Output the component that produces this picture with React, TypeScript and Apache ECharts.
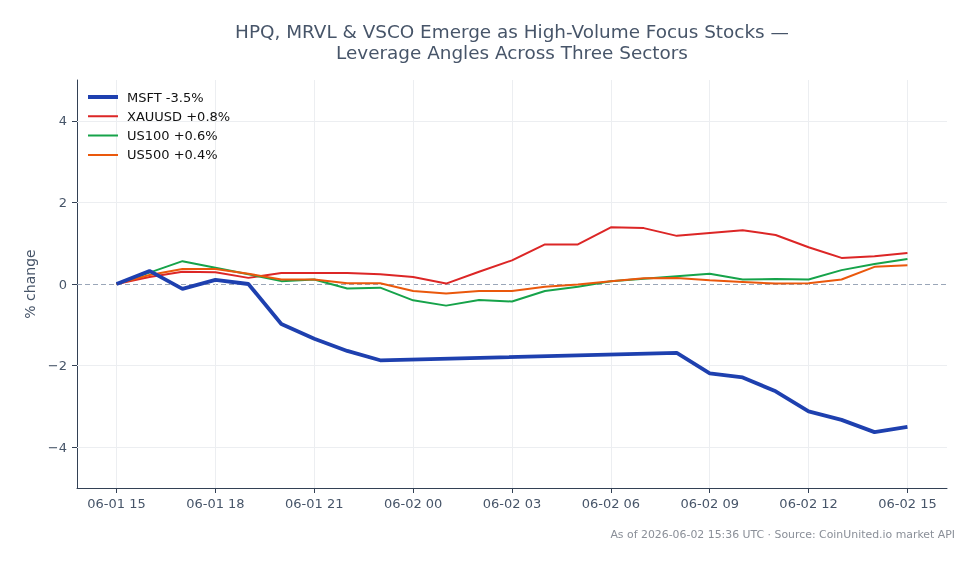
import React, { useEffect, useRef } from "react";
import * as echarts from "echarts";

const times: string[] = [
  "2026-06-01T15:00:00Z", "2026-06-01T16:00:00Z", "2026-06-01T17:00:00Z", "2026-06-01T18:00:00Z",
  "2026-06-01T19:00:00Z", "2026-06-01T20:00:00Z", "2026-06-01T21:00:00Z", "2026-06-01T22:00:00Z",
  "2026-06-01T23:00:00Z", "2026-06-02T00:00:00Z", "2026-06-02T01:00:00Z", "2026-06-02T02:00:00Z",
  "2026-06-02T03:00:00Z", "2026-06-02T04:00:00Z", "2026-06-02T05:00:00Z", "2026-06-02T06:00:00Z",
  "2026-06-02T07:00:00Z", "2026-06-02T08:00:00Z", "2026-06-02T09:00:00Z", "2026-06-02T10:00:00Z",
  "2026-06-02T11:00:00Z", "2026-06-02T12:00:00Z", "2026-06-02T13:00:00Z", "2026-06-02T14:00:00Z",
  "2026-06-02T15:00:00Z",
];

const xTickTimes: string[] = [
  "2026-06-01T15:00:00Z", "2026-06-01T18:00:00Z", "2026-06-01T21:00:00Z", "2026-06-02T00:00:00Z",
  "2026-06-02T03:00:00Z", "2026-06-02T06:00:00Z", "2026-06-02T09:00:00Z", "2026-06-02T12:00:00Z",
  "2026-06-02T15:00:00Z",
];

const msft: (number | null)[] = [
  0, 0.32, -0.12, 0.1, 0.0, -0.98, -1.34, -1.64, -1.87,
  null, null, null, null, null, null, null, null,
  -1.69, -2.19, -2.29, -2.63, -3.12, -3.33, -3.63, -3.5,
];
const xauusd: number[] = [
  0, 0.17, 0.3, 0.29, 0.15, 0.27, 0.27, 0.27, 0.24, 0.17, 0.01, 0.3, 0.58,
  0.97, 0.97, 1.39, 1.37, 1.18, 1.25, 1.32, 1.2, 0.9, 0.64, 0.68, 0.76,
];
const us100: number[] = [
  0, 0.28, 0.56, 0.4, 0.24, 0.07, 0.11, -0.11, -0.09, -0.4, -0.53, -0.39, -0.43,
  -0.17, -0.07, 0.07, 0.13, 0.19, 0.25, 0.11, 0.12, 0.11, 0.34, 0.49, 0.61,
];
const us500: number[] = [
  0, 0.22, 0.37, 0.37, 0.25, 0.11, 0.11, 0.02, 0.02, -0.17, -0.23, -0.17, -0.17,
  -0.07, -0.01, 0.07, 0.14, 0.15, 0.09, 0.05, 0.01, 0.02, 0.11, 0.42, 0.46,
];

const seriesNames: string[] = ["MSFT -3.5%", "XAUUSD +0.8%", "US100 +0.6%", "US500 +0.4%"];
const yTicks: number[] = [-4, -2, 0, 2, 4];

const FONT = "DejaVu Sans";
const pad = (n: number) => (n < 10 ? "0" + n : String(n));

export default function App() {
  const ref = useRef<HTMLDivElement>(null);
  useEffect(() => {
    if (!ref.current) return;
    const chart = echarts.init(ref.current, undefined, { renderer: "svg" });
    const t = times.map((s) => new Date(s).getTime());
    const xt = xTickTimes.map((s) => new Date(s).getTime());
    const span = t[t.length - 1] - t[0];
    const mk = (vals: (number | null)[]) => vals.map((v, i) => [t[i], v]);
    const colors = ["#1e40af", "#dc2626", "#16a34a", "#ea580c"];
    const data = [msft, xauusd, us100, us500];
    const widths = [3.8, 2, 2, 2];
    const grid = "#eceef1";
    const legendIcon = (w: number) =>
      `path://M0,0h0.01v0.01h-0.01z M0,${(14 - w) / 2}h30v${w}h-30z M30,14h0.01v0.01h-0.01z`;
    chart.setOption({
      animation: false,
      textStyle: { fontFamily: FONT },
      title: {
        text: "HPQ, MRVL & VSCO Emerge as High-Volume Focus Stocks —\nLeverage Angles Across Three Sectors",
        left: 507,
        top: 16,
        textAlign: "center",
        textStyle: { fontFamily: FONT, fontSize: 18.4, fontWeight: "normal", color: "#475569", lineHeight: 21 },
      },
      legend: {
        left: 83,
        top: 85,
        orient: "vertical",
        itemWidth: 30,
        itemHeight: 14,
        itemGap: 5.3,
        textStyle: { fontFamily: FONT, fontSize: 13, color: "#111111", padding: [0, 0, 0, 4] },
        data: seriesNames.map((n, i) => ({ name: n, icon: legendIcon(widths[i]) })),
      },
      grid: { left: 77, right: 32, top: 80, bottom: 76, containLabel: false },
      xAxis: {
        type: "value",
        min: t[0] - span * 0.05,
        max: t[t.length - 1] + span * 0.05,
        axisLine: { onZero: false, lineStyle: { color: "#334155", width: 1 } },
        axisTick: { show: true, length: 5, lineStyle: { color: "#334155" }, customValues: xt },
        axisLabel: {
          color: "#475569",
          fontSize: 13,
          fontFamily: FONT,
          margin: 9,
          customValues: xt,
          formatter: (val: number) => {
            const d = new Date(val);
            return `${pad(d.getUTCMonth() + 1)}-${pad(d.getUTCDate())} ${pad(d.getUTCHours())}`;
          },
        },
        splitLine: { show: false },
      },
      yAxis: {
        type: "value",
        min: -5,
        max: 5,
        interval: 1,
        name: "% change",
        nameLocation: "middle",
        nameGap: 40,
        nameTextStyle: { fontFamily: FONT, fontSize: 14, color: "#475569" },
        axisLine: { show: true, onZero: false, lineStyle: { color: "#334155", width: 1 } },
        axisTick: { show: true, length: 5, lineStyle: { color: "#334155" }, customValues: yTicks },
        axisLabel: {
          color: "#475569",
          fontSize: 13,
          fontFamily: FONT,
          margin: 10,
          customValues: yTicks,
          formatter: (v: number) => (v < 0 ? "\u2212" + Math.abs(v) : String(v)),
        },
        splitLine: { show: false },
      },
      series: data.map((vals, i) => ({
        name: seriesNames[i],
        type: "line",
        data: mk(vals),
        symbol: "none",
        showSymbol: false,
        connectNulls: true,
        z: i === 0 ? 5 : 3,
        lineStyle: { color: colors[i], width: widths[i] },
        itemStyle: { color: colors[i] },
        markLine:
          i === 0
            ? {
                silent: true,
                symbol: "none",
                label: { show: false },
                z: 1,
                data: [
                  ...yTicks.map((v) => ({
                    yAxis: v,
                    lineStyle:
                      v === 0
                        ? { color: "#9aa6b8", width: 1, type: [5, 3] }
                        : { color: grid, width: 1, type: "solid" },
                  })),
                  ...xt.map((v) => ({ xAxis: v, lineStyle: { color: grid, width: 1, type: "solid" } })),
                ],
              }
            : undefined,
      })),
      graphic: [
        {
          type: "text",
          right: 24,
          top: 529,
          style: {
            text: "As of 2026-06-02 15:36 UTC · Source: CoinUnited.io market API",
            font: `10.9px '${FONT}'`,
            fill: "#8a8f98",
          },
        },
      ],
    });
    return () => chart.dispose();
  }, []);
  return <div ref={ref} style={{ position: "fixed", left: 0, top: 0, width: 979, height: 564 }} />;
}
